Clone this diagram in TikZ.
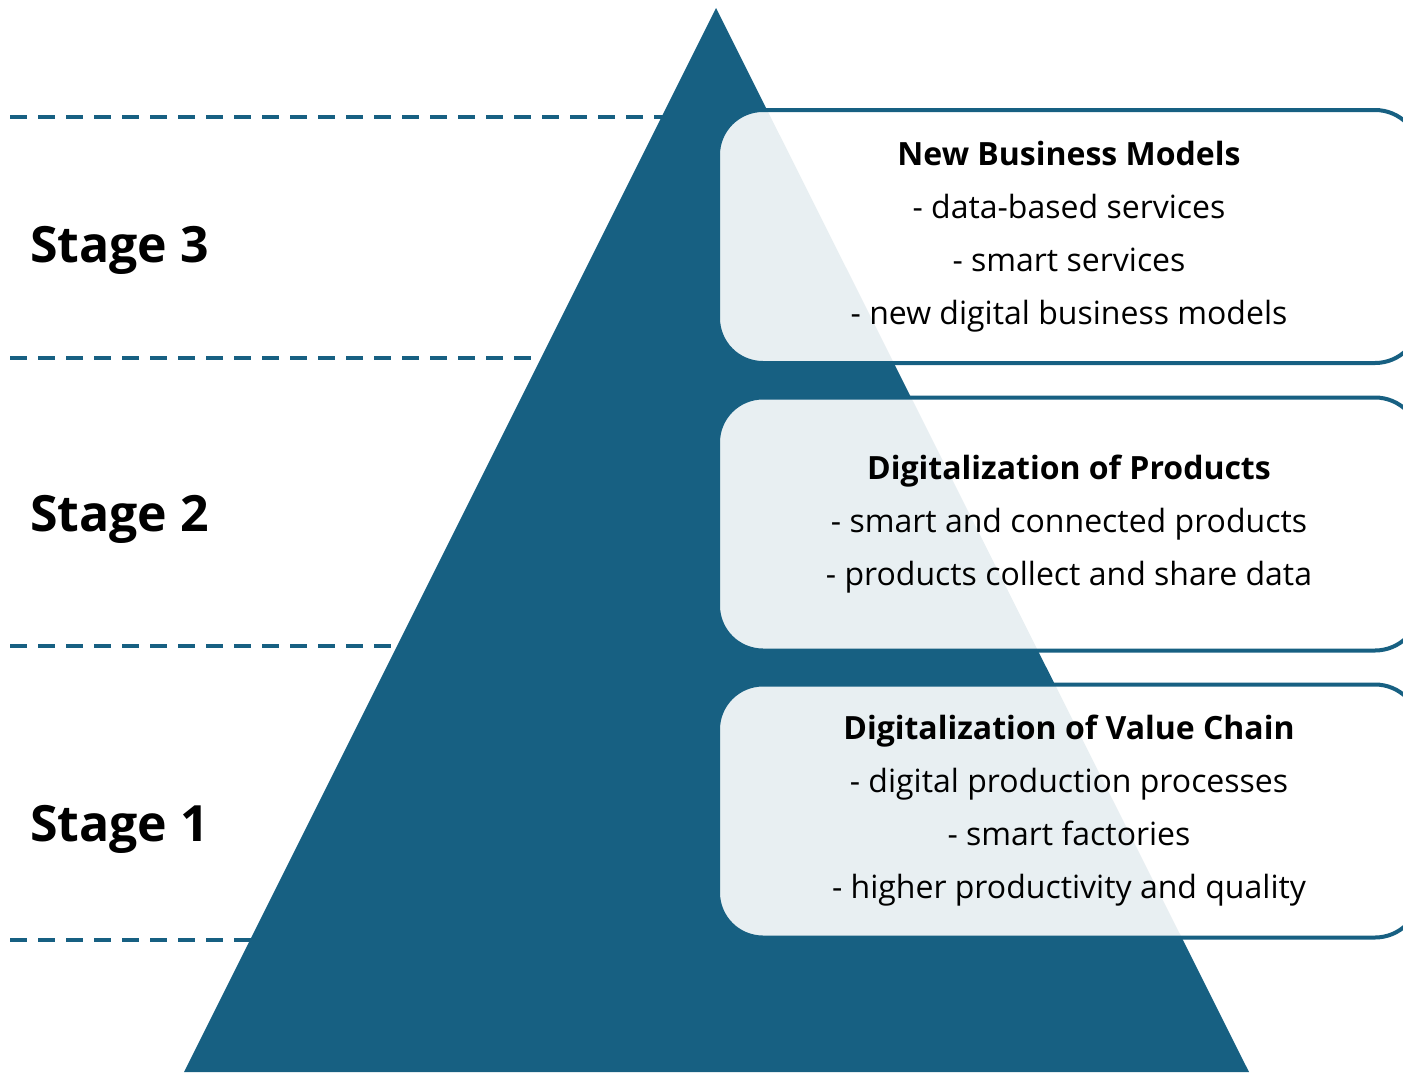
\documentclass[tikz,border=0pt]{standalone}
\usepackage{fontspec}
\setmainfont{Open Sans}
\usetikzlibrary{positioning}
\definecolor{pyramidblue}{RGB}{23,96,130}
\tikzset{
  stagelabel/.style={anchor=west, inner sep=0pt, font=\fontsize{50}{60}\selectfont\bfseries},
  levelline/.style={pyramidblue, line width=3.5pt, dash pattern=on 17pt off 11pt},
  stagebox/.style={draw=pyramidblue, line width=4pt, fill=white, fill opacity=0.9, text opacity=1,
    rounded corners=45pt, minimum width=702pt, minimum height=253pt, align=center,
    font=\fontsize{32}{53}\selectfont},
}
\begin{document}
\begin{tikzpicture}[x=1pt,y=-1pt]
  \useasboundingbox (0,0) rectangle (1403,1072);
  \clip (0,0) rectangle (1403,1072);
  % dashed level lines, ending under the pyramid
  \foreach \y in {117,358,646,940}
    \draw[levelline] (10,\y) -- (716,\y);
  % pyramid
  \coordinate (apex) at (716,8);
  \coordinate (baseright) at (1249,1072);
  \coordinate (baseleft) at (184,1072);
  \fill[pyramidblue] (apex) -- (baseright) -- (baseleft) -- cycle;

  \node[stagebox] (boxthree) at (1069,236.5) {\textbf{New Business Models}\\
    - data-based services\\- smart services\\- new digital business models};
  \node[stagebox] (boxtwo) at (1069,524) {\textbf{Digitalization of Products}\\
    - smart and connected products\\- products collect and share data};
  \node[stagebox] (boxone) at (1069,811) {\textbf{Digitalization of Value Chain}\\
    - digital production processes\\- smart factories\\- higher productivity and quality};

  \node[stagelabel] (stagethree) at (30,250) {Stage 3};
  \node[stagelabel] (stagetwo) at (30,519) {Stage 2};
  \node[stagelabel] (stageone) at (30,829) {Stage 1};
\end{tikzpicture}
\end{document}
